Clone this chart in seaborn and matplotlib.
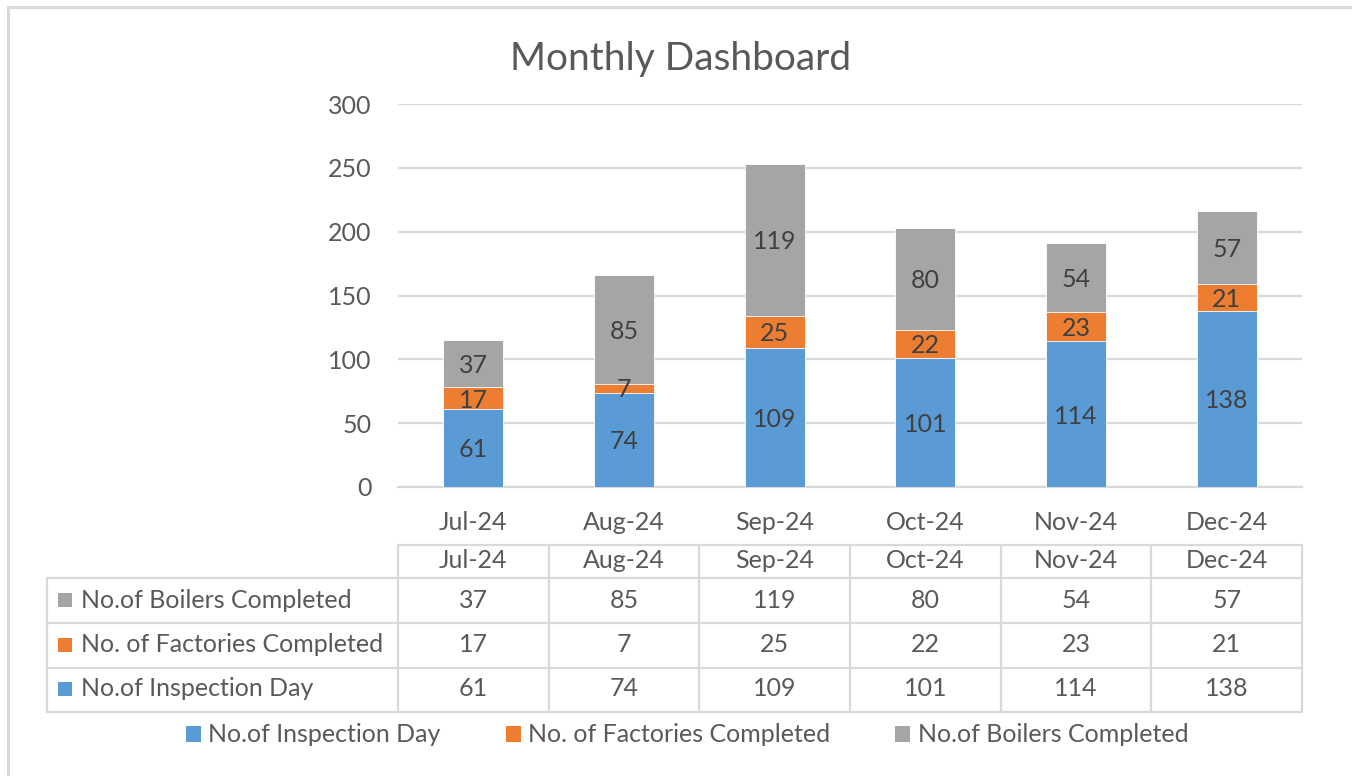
import numpy as np
import pandas as pd
import seaborn as sns
import matplotlib.pyplot as plt
from matplotlib.lines import Line2D
from matplotlib.patches import Patch, Rectangle

# datos del grafico
months = ["Jul-24", "Aug-24", "Sep-24", "Oct-24", "Nov-24", "Dec-24"]
inspection_days = [61, 74, 109, 101, 114, 138]
factories_completed = [17, 7, 25, 22, 23, 21]
boilers_completed = [37, 85, 119, 80, 54, 57]
series_names = ["No.of Inspection Day", "No. of Factories Completed", "No.of Boilers Completed"]
y_ticks = [0, 50, 100, 150, 200, 250, 300]

colors = ["#5B9BD5", "#ED7D31", "#A5A5A5"]
text_col = "#595959"
label_col = "#404040"
line_col = "#D9D9D9"
fs = 18

W, H = 1352, 776
sns.set_theme(style="white")
plt.rcParams["font.family"] = ["Lato", "DejaVu Sans"]

fig = plt.figure(figsize=(W / 100, H / 100), dpi=100)


def fx(x):
    return x / W


def fy(y):
    return 1 - y / H


# area del grafico en pixeles
left, right, top, bottom = 398, 1302, 104, 487
ax = fig.add_axes([fx(left), fy(bottom), fx(right - left), (bottom - top) / H])

df = pd.DataFrame({
    "month": months,
    "inspection": inspection_days,
    "factories": factories_completed,
    "boilers": boilers_completed,
})
df["cum2"] = df["inspection"] + df["factories"]
df["cum3"] = df["cum2"] + df["boilers"]

# barras apiladas: se dibuja el total primero y luego encima las partes
for col, c in zip(["cum3", "cum2", "inspection"], colors[::-1]):
    sns.barplot(data=df, x="month", y=col, color=c, width=0.4, ax=ax,
                saturation=1, edgecolor="white", linewidth=0.6, zorder=3)

# etiquetas dentro de cada segmento
for i, row in df.iterrows():
    segs = [(0, row["inspection"]), (row["inspection"], row["factories"]), (row["cum2"], row["boilers"])]
    for base, v in segs:
        ax.text(i, base + v / 2 - 1.5, str(v), ha="center", va="center", fontsize=fs, color=label_col, zorder=5)

ax.set_ylim(0, 300)
ax.set_xlim(-0.5, 5.5)
ax.set_yticks(y_ticks)
ax.set_xlabel("")
ax.set_ylabel("")
ax.grid(axis="y", color=line_col, linewidth=1.6, zorder=0)
for s in ["top", "right", "left"]:
    ax.spines[s].set_visible(False)
ax.spines["bottom"].set_color(line_col)
ax.spines["bottom"].set_linewidth(1.6)
ax.tick_params(axis="y", length=0, pad=19, labelsize=fs, labelcolor=text_col)
ax.tick_params(axis="x", which="major", length=0, pad=17.5, labelsize=fs, labelcolor=text_col)
ax.set_xticks(np.arange(-0.5, 6, 1), minor=True)
ax.tick_params(axis="x", which="minor", length=7, width=1.6, color=line_col, direction="out")

fig.text(fx(681), fy(59), "Monthly Dashboard", ha="center", va="center", fontsize=28, color=text_col)

# tabla de datos debajo del eje
colw = (right - left) / 6
lw = 1.6


def hline(y, x0, x1):
    fig.add_artist(Line2D([fx(x0), fx(x1)], [fy(y), fy(y)], color=line_col, lw=lw))


def vline(x, y0, y1):
    fig.add_artist(Line2D([fx(x), fx(x)], [fy(y0), fy(y1)], color=line_col, lw=lw))


hline(545, left, right)
for y in [578, 623, 668, 712]:
    hline(y, 47, right)
for k in range(7):
    vline(left + colw * k, 545, 712)
vline(47, 578, 712)

for j, m in enumerate(months):
    fig.text(fx(left + colw * (j + 0.5)), fy(561), m, ha="center", va="center", fontsize=fs, color=text_col)

rows = [(series_names[2], boilers_completed, colors[2], 600),
        (series_names[1], factories_completed, colors[1], 645),
        (series_names[0], inspection_days, colors[0], 689)]
for name, vals, c, yc in rows:
    fig.add_artist(Rectangle((fx(58), fy(yc + 7)), 14 / W, 14 / H, facecolor=c, edgecolor="none"))
    fig.text(fx(81), fy(yc), name, ha="left", va="center", fontsize=fs, color=text_col)
    for j, v in enumerate(vals):
        fig.text(fx(left + colw * (j + 0.5)), fy(yc), str(v), ha="center", va="center", fontsize=fs, color=text_col)

# leyenda
handles = [Patch(facecolor=c, edgecolor="none") for c in colors]
fig.legend(handles, series_names, loc="center", bbox_to_anchor=(fx(687), fy(735)), ncol=3, frameon=False,
           fontsize=fs, labelcolor=text_col, handlelength=0.6, handleheight=0.6, handletextpad=0.3,
           columnspacing=2.6, borderpad=0, borderaxespad=0)

# borde exterior del grafico
fig.add_artist(Rectangle((fx(8), fy(790)), (1360 - 8) / W, (790 - 7) / H, facecolor="none",
                         edgecolor=line_col, lw=2.2))

fig.savefig("out.png", dpi=100)
